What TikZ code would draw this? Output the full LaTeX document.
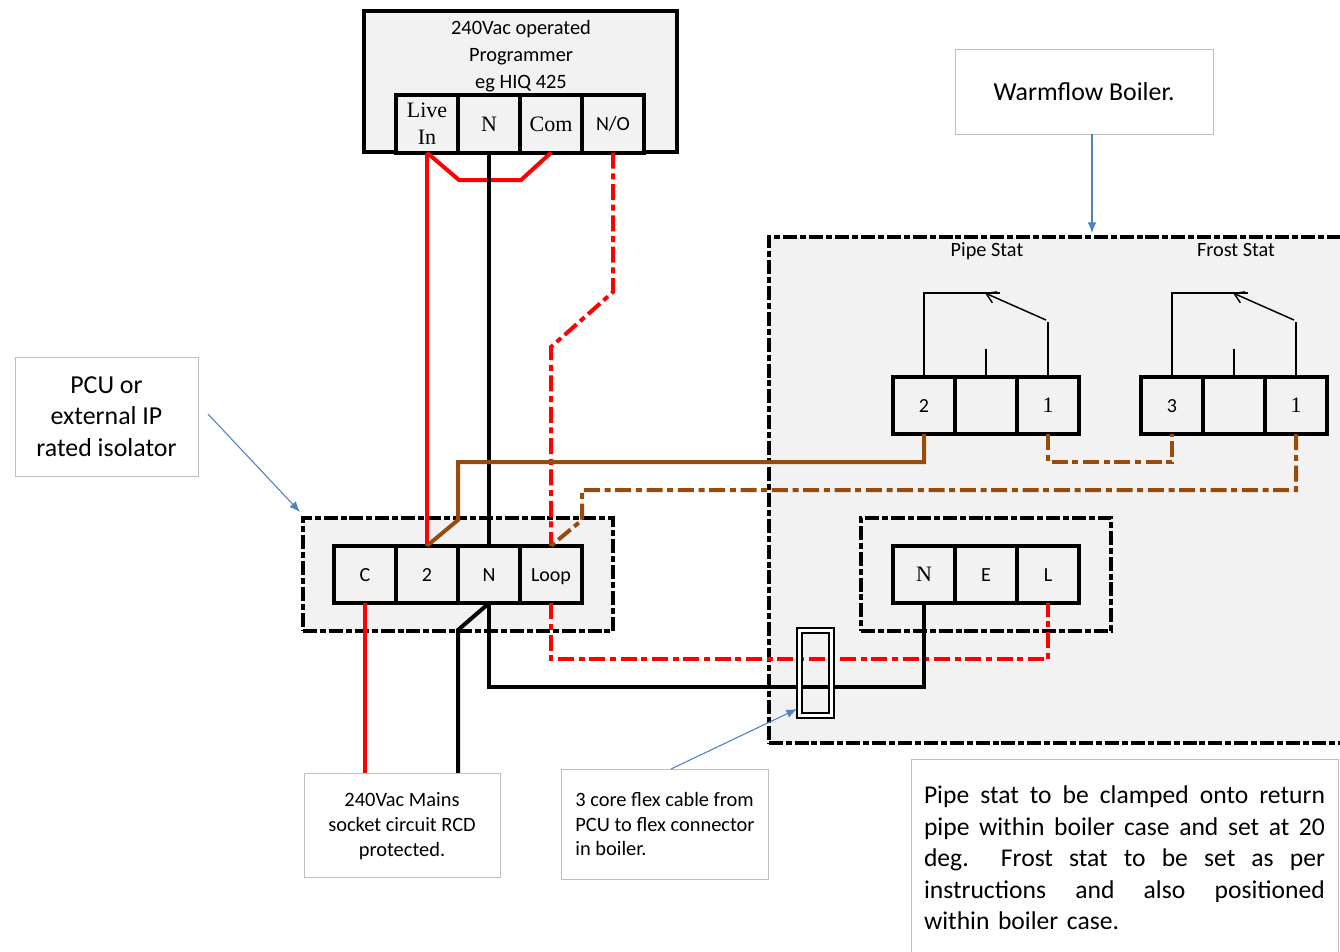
\documentclass[tikz,border=0pt]{standalone}
\usepackage{fontspec}
\setmainfont{Carlito}
\newfontfamily\termserif{Liberation Serif}
\usetikzlibrary{positioning, arrows.meta}
\definecolor{boxgray}{HTML}{F2F2F2}
\definecolor{wirebrown}{HTML}{974B0C}
\definecolor{noteblue}{HTML}{4F81BD}
\definecolor{noteedge}{HTML}{BFBFBF}
\newcommand{\statline}[1]{\leavevmode\hbox to 300.75pt{\spaceskip=0pt\xspaceskip=0pt #1}}
\tikzset{
  termbase/.style = {draw, line width=3pt, fill=boxgray, minimum width=46.5pt, minimum height=43pt, inner sep=0pt, outer sep=0pt, align=center},
  term/.style = {termbase, font=\fontsize{15}{18}\selectfont, text height=10pt, text depth=0pt},
  termrm/.style = {termbase, font=\fontsize{16.5}{20}\termserif, text height=11pt, text depth=0pt},
  dashbox/.style = {draw, fill=boxgray, line width=3pt, dash pattern=on 10.5pt off 2.2pt on 4.5pt off 2.2pt},
  wire/.style = {line width=3pt, line join=miter},
  dashdot/.style = {dash pattern=on 12pt off 3.5pt on 4.5pt off 3.5pt},
  note/.style = {draw=noteedge, fill=white, line width=0.7pt, align=center, inner sep=0pt},
  pointer/.style = {draw=noteblue, line width=0.8pt, -{Latex[length=8pt,width=6.5pt]}},
  switchline/.style = {line width=1.1pt},
  statlabel/.style = {font=\fontsize{15.2}{18}\selectfont, text height=10pt, text depth=3pt}
}
\begin{document}
\begin{tikzpicture}[x=0.75pt, y=-0.75pt, node distance=46.5pt]
  \useasboundingbox (0,0) rectangle (1340,951);
  % enclosures
  \node[draw, fill=boxgray, line width=3pt, minimum width=234.75pt, minimum height=105.75pt, inner sep=0pt] (prog) at (520.5,81.5) {};
  \node[dashbox, minimum width=232.5pt, minimum height=84.75pt, inner sep=0pt] (pcu) at (458,574.5) {};
  \node[dashbox, minimum width=500pt, minimum height=379.5pt, inner sep=0pt] (boiler) at (1102,490) {};
  \node[dashbox, minimum width=187.5pt, minimum height=84.75pt, inner sep=0pt] (supply) at (986,574.5) {};
  \node[font=\fontsize{15.3}{20.25pt}\selectfont, align=center] (progtext) at (521,56) {240Vac operated\\Programmer\\eg HIQ 425};
  \node[statlabel] (pipelabel) at (987,252) {Pipe Stat};
  \node[statlabel] (frostlabel) at (1236,252) {Frost Stat};
  % terminals
  \node[termbase, font=\fontsize{16.5}{20}\termserif] (live) at (427,124) {Live\\In};
  \node[termrm, right of=live] (progn) {N};
  \node[termrm, right of=progn] (com) {Com};
  \node[term, right of=com] (no) {N/O};
  \node[term] (pcuc) at (365,574.5) {C};
  \node[term, right of=pcuc] (pcutwo) {2};
  \node[term, right of=pcutwo] (pcun) {N};
  \node[term, right of=pcun] (loop) {Loop};
  \node[term] (pipetwo) at (924,405.5) {2};
  \node[term, right of=pipetwo] (pipemid) {};
  \node[termrm, right of=pipemid] (pipeone) {1};
  \node[term] (frostthree) at (1172,405.5) {3};
  \node[term, right of=frostthree] (frostmid) {};
  \node[termrm, right of=frostmid] (frostone) {1};
  \node[termrm] (boilern) at (924,574.5) {N};
  \node[term, right of=boilern] (boilere) {E};
  \node[term, right of=boilere] (boilerl) {L};
  % stats
  \draw[switchline] (pipetwo.north) -- (924,293) -- (1000,293);
  \draw[switchline, -{Straight Barb[length=7pt,width=9pt]}] (1046,320) -- (985,293);
  \draw[switchline] (pipemid.north) -- (986,349);
  \draw[switchline] (pipeone.north) -- (1048,322);
  \draw[switchline] (frostthree.north) -- (1172,293) -- (1248,293);
  \draw[switchline, -{Straight Barb[length=7pt,width=9pt]}] (1294,320) -- (1233,293);
  \draw[switchline] (frostmid.north) -- (1234,349);
  \draw[switchline] (frostone.north) -- (1296,322);
  % wires
  \coordinate (mainsl) at (365,773);
  \coordinate (mainsn) at (458,773);
  \draw[wire, red] (live.south) -- (pcutwo.north);
  \draw[wire, red] (live.south) -- (459,180) -- (521,180) -- (com.south);
  \draw[wire] (progn.south) -- (pcun.north);
  \draw[wire, red, dashdot] (no.south) -- (613,292) -- (551,347) -- (loop.north);
  \draw[wire, wirebrown] (pipetwo.south) |- (458,462) -- (458,520) -- (pcutwo.north);
  \draw[wire, wirebrown, dashdot] (frostone.south) |- (582,490) -- (582,520) -- (loop.north);
  \draw[wire, wirebrown, dashdot] (pipeone.south) |- (1172,462) -- (frostthree.south);
  \draw[wire, red] (pcuc.south) -- (mainsl);
  \draw[wire] (pcun.south) -- (458,630) -- (mainsn);
  \draw[wire, red, dashdot] (loop.south) |- (1048,659) -- (boilerl.south);
  \draw[wire] (pcun.south) |- (924,687) -- (boilern.south);
  \node[draw, double=white, line width=1.4pt, double distance=2.2pt, minimum width=23.6pt, minimum height=63.5pt, inner sep=0pt] (flex) at (815.5,673) {};
  % notes
  \node[note, minimum width=193.5pt, minimum height=63.75pt, font=\fontsize{19.4}{22}\selectfont] (boilernote) at (1084,91.5) {Warmflow Boiler.};
  \node[note, minimum width=137.25pt, minimum height=89.25pt, font=\fontsize{19.4}{23.5pt}\selectfont, text depth=1pt] (pcunote) at (106.5,417) {PCU or\\external IP\\rated isolator};
  \node[note, minimum width=147pt, minimum height=78pt, font=\fontsize{15.3}{18.75pt}\selectfont, text depth=1pt] (mainsnote) at (402,825) {240Vac Mains\\socket circuit RCD\\protected.};
  \node[note, minimum width=155pt, minimum height=82.5pt, font=\fontsize{15.3}{18.5pt}\selectfont, align=left] (flexnote) at (665,824) {3 core flex cable from\\PCU to flex connector\\in boiler.};
  \node[note, minimum width=320.25pt, minimum height=148.5pt, font=\fontsize{19.2}{23.6pt}\selectfont, text width=300.75pt, align=left, inner xsep=9.75pt] (statnote) at (1124.5,858) {%
    \statline{Pipe stat to be clamped onto return}\\
    \statline{pipe within boiler case and set at 20}\\
    \statline{deg.\ \ Frost stat to be set as per}\\
    \statline{instructions and also positioned}\\
    within boiler case.};
  % pointers
  \coordinate (pcutip) at (300,512);
  \coordinate (pcutail) at (208,414);
  \coordinate (boilertip) at (1092,233);
  \coordinate (boilertail) at (1092,134);
  \coordinate (flextail) at (671,769);
  \coordinate (flextip) at (797,709);
  \draw[pointer] (boilertail) -- (boilertip);
  \draw[pointer] (pcutail) -- (pcutip);
  \draw[pointer] (flextail) -- (flextip);
\end{tikzpicture}
\end{document}
